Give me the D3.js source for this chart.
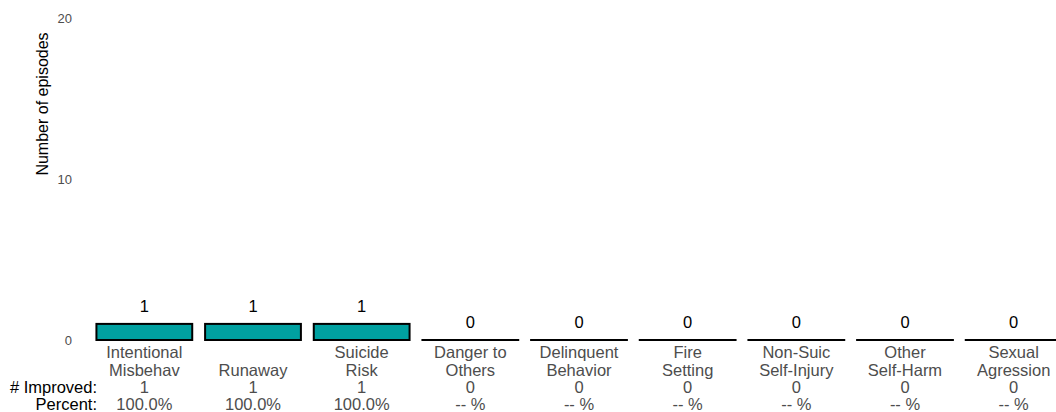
<!DOCTYPE html>
<html><head><meta charset="utf-8">
<script src="https://cdn.jsdelivr.net/npm/d3@7"></script>
<style>body{margin:0;background:#fff}svg{display:block;font-family:"Liberation Sans",Arial,sans-serif}</style>
</head><body><svg id="c" width="1056" height="412"></svg>
<script>
const categories = [["Intentional","Misbehav"],["","Runaway"],["Suicide","Risk"],["Danger to","Others"],["Delinquent","Behavior"],["Fire","Setting"],["Non-Suic","Self-Injury"],["Other","Self-Harm"],["Sexual","Agression"]];
const episodes = [1,1,1,0,0,0,0,0,0];
const improved = [1,1,1,0,0,0,0,0,0];
const percent = ["100.0%","100.0%","100.0%","-- %","-- %","-- %","-- %","-- %","-- %"];
const yTicks = [0,10,20];

const svg = d3.select("#c");
const x = d3.scaleBand().domain(d3.range(categories.length)).range([90,1068]).paddingInner(0.1).paddingOuter(0.05);
const y = d3.scaleLinear().domain([0,20]).range([340,18]);
const fs = 16.5;

svg.append("g").selectAll("text").data(yTicks).join("text")
  .attr("x",72).attr("y",d=>y(d)).attr("dy","0.35em").attr("text-anchor","end")
  .attr("font-size",13).attr("fill","#4d4d4d").text(d=>d);

svg.append("text").attr("transform","translate(48,104) rotate(-90)")
  .attr("text-anchor","middle").attr("font-size",16).attr("fill","#000").text("Number of episodes");

const g = svg.append("g");
const bw = x.bandwidth();
episodes.forEach((v,i)=>{
  if(v>0){
    g.append("rect").attr("x",x(i)+1).attr("y",y(v)).attr("width",bw-2).attr("height",y(0)-y(v))
      .attr("fill","#00A0A0").attr("stroke","#000").attr("stroke-width",2);
  } else {
    g.append("line").attr("x1",x(i)).attr("x2",x(i)+bw).attr("y1",y(0)).attr("y2",y(0))
      .attr("stroke","#000").attr("stroke-width",2);
  }
  g.append("text").attr("x",x(i)+bw/2).attr("y",y(v)-12).attr("text-anchor","middle")
    .attr("font-size",fs).attr("fill","#000").text(v);
  const c = categories[i];
  const rows = [[c[0],358],[c[1],375.5],[improved[i],392.5],[percent[i],409.5]];
  rows.forEach(([t,yy])=>g.append("text").attr("x",x(i)+bw/2).attr("y",yy).attr("text-anchor","middle")
    .attr("font-size",fs).attr("fill","#4d4d4d").text(t));
});
svg.append("text").attr("x",97).attr("y",392.5).attr("text-anchor","end").attr("font-size",fs).attr("fill","#000").text("# Improved:");
svg.append("text").attr("x",97).attr("y",409.5).attr("text-anchor","end").attr("font-size",fs).attr("fill","#000").text("Percent:");
</script></body></html>
